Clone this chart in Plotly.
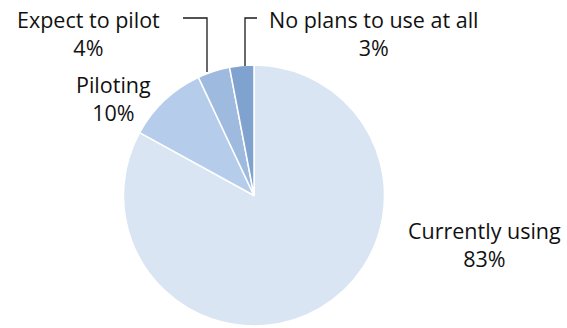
import plotly.graph_objects as go

labels = ["Currently using", "Piloting", "Expect to pilot", "No plans to use at all"]
values = [83, 10, 4, 3]
colors = ["#d9e5f2", "#b5cdeb", "#9ebade", "#80a2cf"]

W, H = 567, 328
def px(x):
    return x / W
def py(y):
    return 1 - y / H

fig = go.Figure(go.Pie(
    labels=labels, values=values, sort=False, direction="clockwise", rotation=0,
    marker=dict(colors=colors, line=dict(color="white", width=1.5)),
    textinfo="none", hoverinfo="label+percent", showlegend=False,
    domain=dict(x=[px(123), px(385)], y=[py(326), py(65)]),
))

font = dict(family="Open Sans, Lato, sans-serif", size=21.5, color="#111111")
# (x center, y center of the two-line label) in pixels
label_pos = {
    "Currently using": (484, 244),
    "Piloting": (113, 98),
    "Expect to pilot": (88, 34),
    "No plans to use at all": (374, 34),
}
annotations = []
for lab, v in zip(labels, values):
    x, y = label_pos[lab]
    annotations.append(dict(x=px(x), y=py(y), xref="paper", yref="paper",
                            text=f"{lab}<br>{v}%", showarrow=False, font=font,
                            xanchor="center", yanchor="middle", align="center"))

line = dict(color="#1a1a1a", width=1.3)
shapes = [
    dict(type="path", xref="paper", yref="paper",
         path=f"M {px(183)} {py(18)} L {px(207)} {py(18)} L {px(207)} {py(72)}", line=line),
    dict(type="path", xref="paper", yref="paper",
         path=f"M {px(257)} {py(18)} L {px(245)} {py(18)} L {px(245)} {py(66)}", line=line),
]

fig.update_layout(width=W, height=H, margin=dict(l=0, r=0, t=0, b=0),
                  paper_bgcolor="white", plot_bgcolor="white",
                  annotations=annotations, shapes=shapes)
fig.write_html("out.html")
